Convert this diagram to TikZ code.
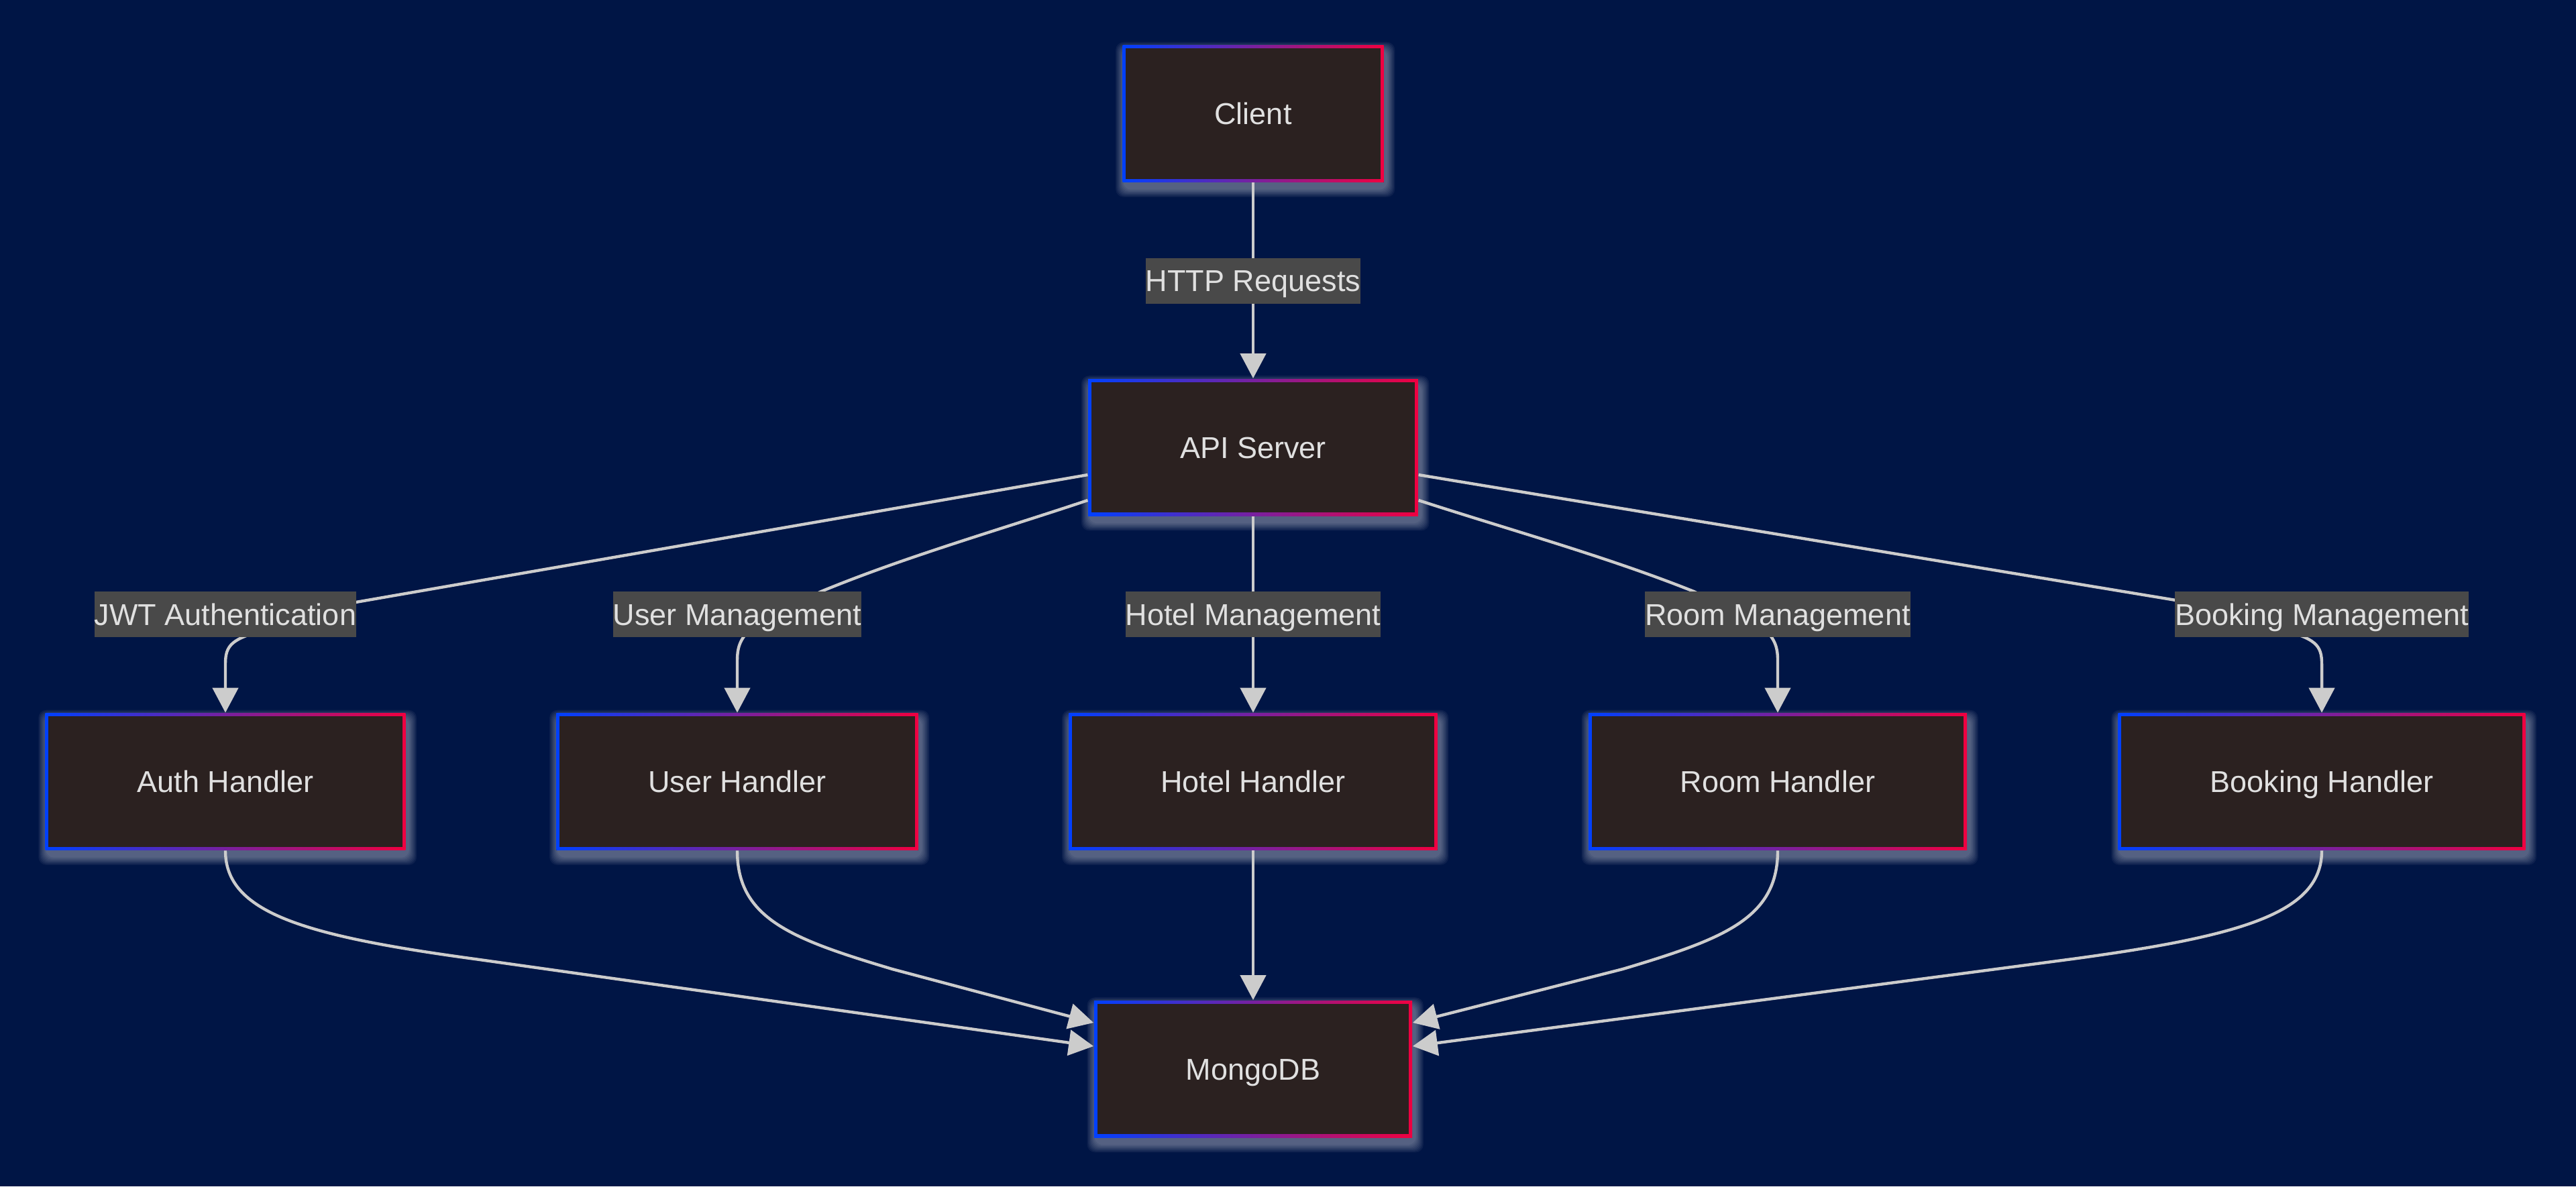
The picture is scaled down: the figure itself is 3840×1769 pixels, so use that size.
\documentclass[tikz,border=0pt]{standalone}
\usepackage{fontspec}
\setmainfont{Liberation Sans}
\usetikzlibrary{arrows.meta}
\definecolor{bgc}{RGB}{0,21,69}
\definecolor{nodefill}{RGB}{43,33,32}
\definecolor{labgray}{RGB}{73,73,73}
\definecolor{txtc}{RGB}{224,224,224}
\definecolor{edgec}{RGB}{204,204,204}
\definecolor{bblue}{RGB}{0,64,255}
\definecolor{rred}{RGB}{240,0,64}
\newcommand\mainsz{\fontsize{11.25pt}{13.5pt}\selectfont}
\pgfdeclarelayer{bg}
\pgfsetlayers{bg,main}
\tikzset{
  box/.style={rectangle, fill=nodefill, minimum height=51pt, inner xsep=34.25pt, inner ysep=0pt,
    text height=8.05pt, text depth=0pt, text=txtc, font=\mainsz,
    path picture={
      \shade[left color=bblue, right color=rred] (path picture bounding box.south west) rectangle (path picture bounding box.north east);
      \fill[nodefill] ([shift={(1.2pt,1.2pt)}]path picture bounding box.south west) rectangle ([shift={(-1.2pt,-1.2pt)}]path picture bounding box.north east);
    }},
  lbl/.style={rectangle, fill=labgray, inner sep=0pt, minimum height=17pt, text height=8.05pt, text depth=0pt,
    text=txtc, font=\mainsz},
  edge/.style={draw=edgec, line width=1.1pt, -{Triangle[length=9.25pt,width=9.5pt]}},
}
\begin{document}
\begin{tikzpicture}[x=0.25pt,y=-0.25pt]
\useasboundingbox (0,0) rectangle (3840,1769);
% nodes
\node[box] (client) at (1868,169.5) {Client};
\node[box] (api) at (1868,667) {API Server};
\node[box] (auth) at (336,1165.5) {Auth Handler};
\node[box] (user) at (1099,1165.5) {User Handler};
\node[box] (hotel) at (1868,1165.5) {Hotel Handler};
\node[box] (room) at (2650,1165.5) {Room Handler};
\node[box] (booking) at (3461,1165.5) {Booking Handler};
\node[box] (mongo) at (1868,1594) {MongoDB};
% background and glow
\begin{pgfonlayer}{bg}
\fill[bgc] (0,0) rectangle (3840,1769);
\foreach \n in {client,api,auth,user,hotel,room,booking,mongo}{
  \foreach \i in {1,...,8}{
    \pgfmathsetmacro\gxa{-\i*0.4+0.8}
    \pgfmathsetmacro\gya{-\i*0.4-2.2}
    \pgfmathsetmacro\gxb{\i*0.4+0.8}
    \pgfmathsetmacro\gyb{\i*0.4-2.2}
    \fill[white, opacity=0.05, rounded corners=3pt]
      ([shift={(\gxa pt,\gya pt)}]\n.south west) rectangle
      ([shift={(\gxb pt,\gyb pt)}]\n.north east);
  }
}
\end{pgfonlayer}
% edges
\draw[edge] (client.south) -- (api.north);
\draw[edge] ([yshift=-10.25pt]api.west) -- (450,912) -- (400,938) .. controls (345,952) and (336,962) .. (336,990) -- (auth.north);
\draw[edge] ([yshift=-19.75pt]api.west) .. controls (1490,790) and (1350,830) .. (1224,882) -- (1150,918) -- (1120,935) .. controls (1106,952) and (1099,960) .. (1099,985) -- (user.north);
\draw[edge] (api.south) -- (hotel.north);
\draw[edge] ([yshift=-19.75pt]api.east) .. controls (2250,790) and (2395,830) .. (2525,882) -- (2599,918) -- (2629,935) .. controls (2643,952) and (2650,960) .. (2650,985) -- (room.north);
\draw[edge] ([yshift=-10.25pt]api.east) -- (3340,911) -- (3397,938) .. controls (3452,952) and (3461,962) .. (3461,990) -- (booking.north);
\draw[edge] (auth.south) .. controls (336,1360) and (450,1395) .. (708,1430) -- ([yshift=8.5pt]mongo.west);
\draw[edge] (user.south) .. controls (1099,1370) and (1180,1400) .. (1330,1445) -- ([yshift=17.25pt]mongo.west);
\draw[edge] (hotel.south) -- (mongo.north);
\draw[edge] (room.south) .. controls (2650,1370) and (2569,1400) .. (2419,1445) -- ([yshift=17.25pt]mongo.east);
\draw[edge] (booking.south) .. controls (3461,1360) and (3347,1395) .. (3089,1430) -- ([yshift=8.5pt]mongo.east);
% labels
\node[lbl] (lhttp) at (1868,418.5) {HTTP Requests};
\node[lbl] (ljwt) at (336,916) {JWT Authentication};
\node[lbl] (luser) at (1099,916) {User Management};
\node[lbl] (lhotel) at (1868,916) {Hotel Management};
\node[lbl] (lroom) at (2650,916) {Room Management};
\node[lbl] (lbook) at (3461,916) {Booking Management};
\end{tikzpicture}
\end{document}
